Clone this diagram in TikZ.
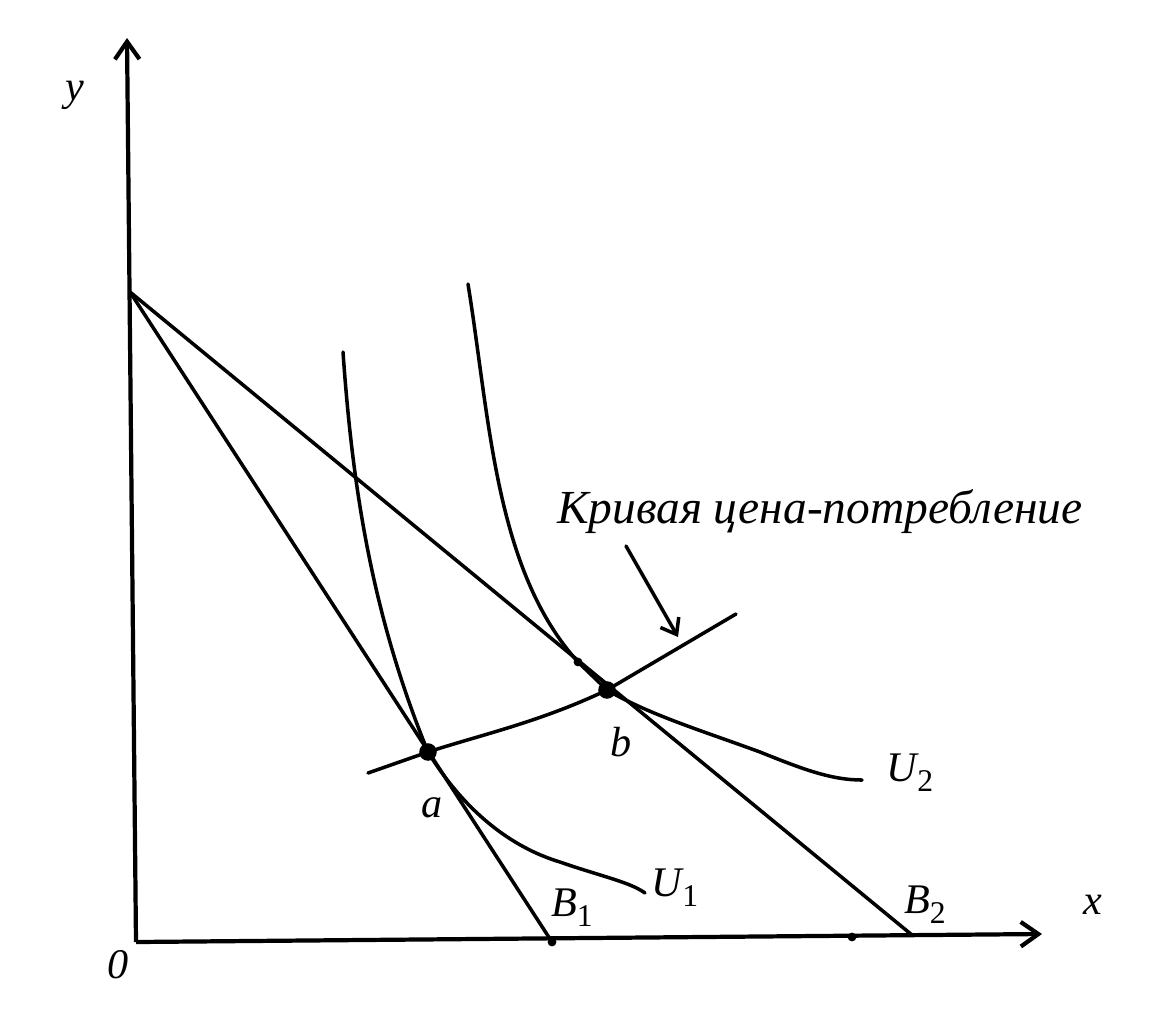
\documentclass[tikz,border=0pt]{standalone}
\usepackage{fontspec}
\setmainfont{Liberation Serif}
\usetikzlibrary{arrows.meta}
\newcommand{\mysub}[1]{\raisebox{-0.5ex}{\fontsize{18}{20}\selectfont\upshape #1}}
\begin{document}
\begin{tikzpicture}[x=0.02cm,y=-0.02cm,
  line/.style={line width=2pt,line cap=round,line join=round},
  axis/.style={line width=2.4pt,-{Straight Barb[length=10pt,width=14pt,line width=2.4pt]}},
  lbl/.style={font=\fontsize{24}{28}\selectfont\itshape,inner sep=1pt},
  pt/.style={circle,fill=black,inner sep=0pt,minimum size=10pt},
  small/.style={circle,fill=black,inner sep=0pt,minimum size=5pt}]
\useasboundingbox (0,0) rectangle (1176,1008);
% axes
\coordinate (O) at (136,942);
\coordinate (ytop) at (127,38);
\coordinate (xend) at (1042,934);
\draw[axis] (O) -- (ytop);
\draw[axis] (O) -- (xend);
% budget lines
\coordinate (A) at (130,292);
\coordinate (B1) at (552,942);
\coordinate (B2) at (912,935);
\draw[line] (A) -- (B1);
\draw[line] (A) -- (B2);
\node[small] (b1dot) at (B1) {};
\node[small] (xdot) at (852,937) {};
% points
\node[pt] (a) at (428,752) {};
\node[pt] (b) at (607,690) {};
\node[small] (c) at (578,662) {};
% indifference curves
\draw[line] (343,352) .. controls (352,480) and (370,610) .. (a.center)
  .. controls (470,820) and (520,850) .. (560,862) .. controls (600,876) and (630,882) .. (645,893);
\draw[line] (468,284) .. controls (490,420) and (495,570) .. (c.center)
  -- (b.center) .. controls (650,715) and (700,730) .. (760,752) .. controls (800,768) and (830,780) .. (862,780);
% price-consumption curve
\coordinate (pcs) at (368,773);
\coordinate (pce) at (736,614);
\draw[line] (pcs) -- (a.center) .. controls (480,735) and (540,722) .. (b.center) -- (pce);
% annotation
\node[lbl,anchor=west,font=\fontsize{27}{30}\selectfont\itshape] (pclabel) at (555,512) {Кривая цена-потребление};
\coordinate (arrs) at (626,546);
\coordinate (arre) at (678,637);
\draw[line,-{Straight Barb[length=8pt,width=12pt,line width=2pt]}] (arrs) -- (arre);
% labels
\node[lbl] (ylab) at (75,95) {y};
\node[lbl] (xlab) at (1093,905) {x};
\node[lbl] (olab) at (118,965) {0};
\node[lbl] (alab) at (432,808) {a};
\node[lbl] (blab) at (621,742) {b};
\node[lbl] (B1lab) at (572,908) {B\mysub{1}};
\node[lbl] (B2lab) at (925,905) {B\mysub{2}};
\node[lbl] (U1lab) at (675,888) {U\mysub{1}};
\node[lbl] (U2lab) at (910,773) {U\mysub{2}};
\end{tikzpicture}
\end{document}
